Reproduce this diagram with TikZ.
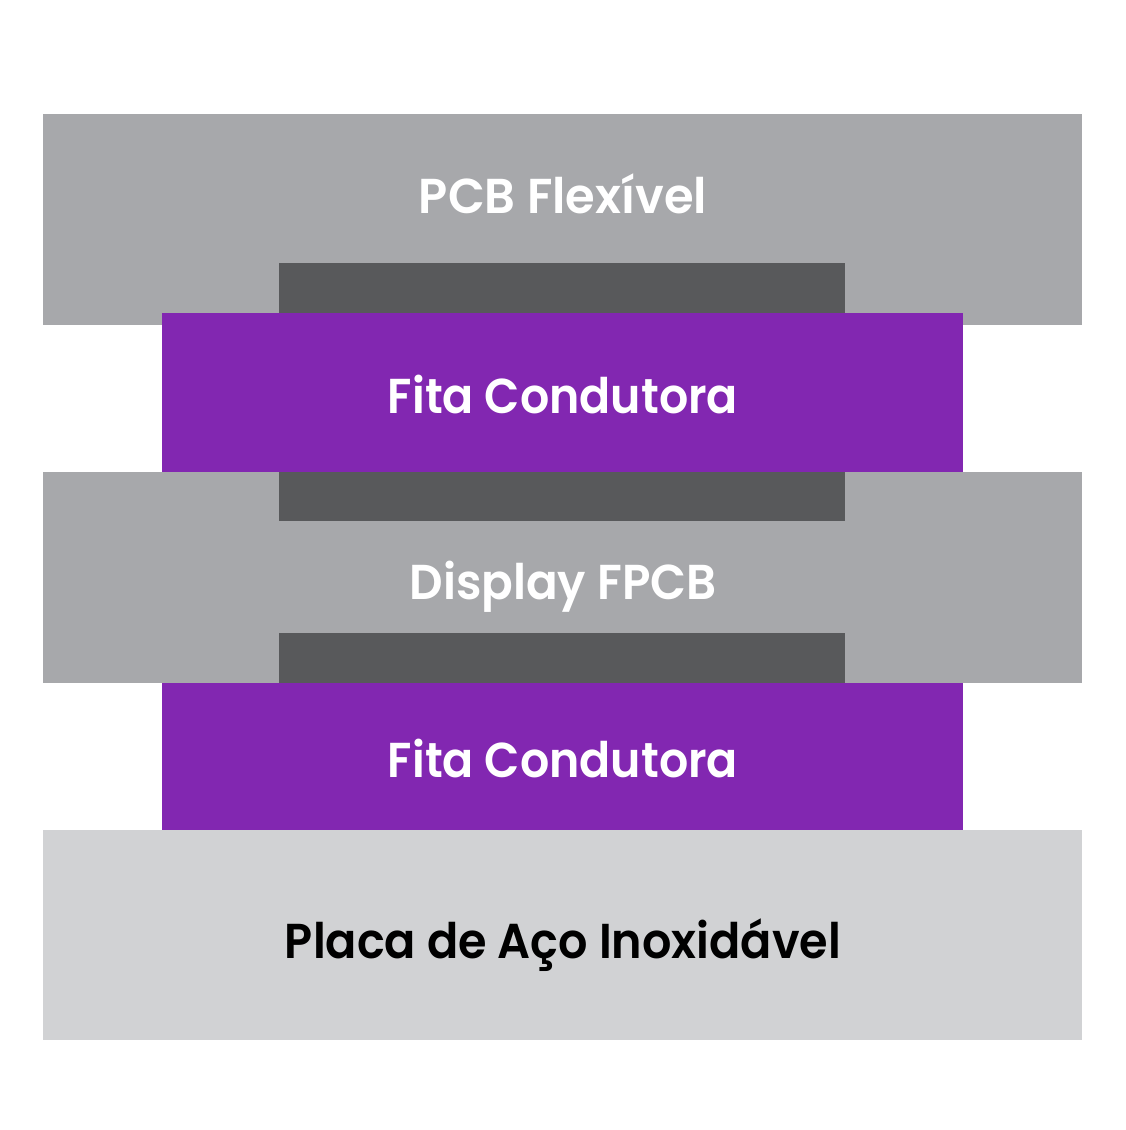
\documentclass[tikz,border=0pt]{standalone}
\usepackage{fontspec}
\usepackage{graphicx}
\setmainfont{Poppins}[BoldFont={Poppins SemiBold}]
\definecolor{pcbgray}{HTML}{A7A8AB}
\definecolor{darkgray}{HTML}{58595B}
\definecolor{fitapurple}{HTML}{8227B1}
\definecolor{steelgray}{HTML}{D1D2D4}
\newcommand{\fitw}[2]{\resizebox{#1}{\height}{#2}}
\tikzset{
  layer/.style={inner sep=0pt, outer sep=0pt, anchor=north west, draw=none},
  lbl/.style={inner sep=0pt, anchor=base, font=\fontsize{49}{58}\selectfont\bfseries},
}
\begin{document}
\begin{tikzpicture}[x=1pt,y=-1pt]
\useasboundingbox (0,0) rectangle (1125,1130);
% gray layers
\node[layer, fill=pcbgray, minimum width=1039pt, minimum height=211pt] (pcb) at (43,114) {};
\node[layer, fill=pcbgray, minimum width=1039pt, minimum height=211pt] (disp) at (43,472) {};
\node[layer, fill=steelgray, minimum width=1039pt, minimum height=210pt] (steel) at (43,830) {};
% dark bonding pads
\node[layer, fill=darkgray, minimum width=566pt, minimum height=50pt] (pad1) at (279,263) {};
\node[layer, fill=darkgray, minimum width=566pt, minimum height=49pt] (pad2) at (279,472) {};
\node[layer, fill=darkgray, minimum width=566pt, minimum height=50pt] (pad3) at (279,633) {};
% purple tapes
\node[layer, fill=fitapurple, minimum width=801pt, minimum height=159pt] (fita1) at (162,313) {};
\node[layer, fill=fitapurple, minimum width=801pt, minimum height=147pt] (fita2) at (162,683) {};
% labels
\node[lbl, text=white] (t1) at (563,213) {\fitw{288pt}{PCB Flexível}};
\node[lbl, text=white] (t2) at (563,413) {\fitw{350pt}{Fita Condutora}};
\node[lbl, text=white] (t3) at (563,599) {\fitw{307pt}{Display FPCB}};
\node[lbl, text=white] (t4) at (563,777) {\fitw{350pt}{Fita Condutora}};
\node[lbl, text=black] (t5) at (563,958) {\fitw{556pt}{Placa de Aço Inoxidável}};
\end{tikzpicture}
\end{document}
